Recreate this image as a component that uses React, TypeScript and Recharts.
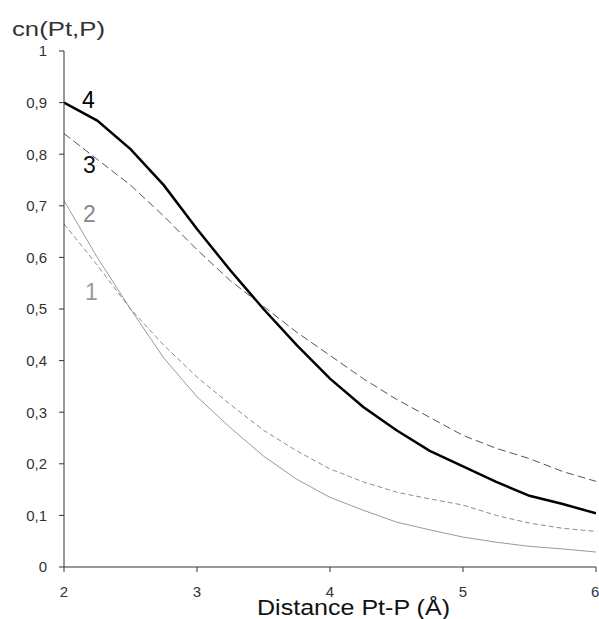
import React from "react";
import { LineChart, Line, XAxis, YAxis } from "recharts";

const distances = [2, 2.25, 2.5, 2.75, 3, 3.25, 3.5, 3.75, 4, 4.25, 4.5, 4.75, 5, 5.25, 5.5, 5.75, 6];
const curve1 = [0.71, 0.6, 0.5, 0.405, 0.33, 0.27, 0.215, 0.17, 0.135, 0.11, 0.087, 0.072, 0.058, 0.048, 0.04, 0.035, 0.029];
const curve2 = [0.665, 0.585, 0.5, 0.43, 0.368, 0.315, 0.265, 0.225, 0.19, 0.165, 0.145, 0.132, 0.12, 0.1, 0.085, 0.075, 0.069];
const curve3 = [0.84, 0.79, 0.74, 0.68, 0.615, 0.555, 0.505, 0.455, 0.41, 0.365, 0.325, 0.29, 0.255, 0.23, 0.21, 0.185, 0.166];
const curve4 = [0.9, 0.865, 0.81, 0.74, 0.655, 0.575, 0.5, 0.43, 0.365, 0.31, 0.265, 0.225, 0.195, 0.165, 0.138, 0.122, 0.104];

const xTicks = [2, 3, 4, 5, 6];
const yTicks = [0, 0.1, 0.2, 0.3, 0.4, 0.5, 0.6, 0.7, 0.8, 0.9, 1];

const data = distances.map((x, i) => ({
  x,
  c1: curve1[i],
  c2: curve2[i],
  c3: curve3[i],
  c4: curve4[i],
}));

const font = "Arial, 'Liberation Sans', sans-serif";
const fmtY = (v: number) => String(Math.round(v * 10) / 10).replace(".", ",");

export default function App() {
  return (
    <div style={{ position: "absolute", left: 0, top: 0, width: 599, height: 619, background: "#fff" }}>
      <LineChart
        width={599}
        height={619}
        data={data}
        margin={{ top: 51, right: 3, bottom: 0, left: 0 }}
      >
        <XAxis
          dataKey="x"
          type="number"
          domain={[2, 6]}
          ticks={xTicks}
          height={52}
          stroke="#333"
          tickSize={5}
          tickMargin={14}
          tick={{ fill: "#333", fontSize: 15, fontFamily: font }}
          allowDataOverflow
        />
        <YAxis
          type="number"
          domain={[0, 1]}
          ticks={yTicks}
          width={64}
          stroke="#333"
          tickSize={5}
          tickMargin={12}
          tickFormatter={fmtY}
          tick={{ fill: "#333", fontSize: 15, fontFamily: font }}
          allowDataOverflow
        />
        <Line dataKey="c1" type="linear" stroke="#9a9a9a" strokeWidth={1} dot={false} isAnimationActive={false} />
        <Line dataKey="c2" type="linear" stroke="#8c8c8c" strokeWidth={1} strokeDasharray="5 3" dot={false} isAnimationActive={false} />
        <Line dataKey="c3" type="linear" stroke="#555" strokeWidth={1} strokeDasharray="8 4" dot={false} isAnimationActive={false} />
        <Line dataKey="c4" type="linear" stroke="#000" strokeWidth={2.5} dot={false} isAnimationActive={false} />
      </LineChart>
      <svg
        width={599}
        height={619}
        style={{ position: "absolute", left: 0, top: 0, pointerEvents: "none" }}
      >
        <text x={12} y={36} fontSize={21} fontFamily={font} fill="#333" textLength={93} lengthAdjust="spacingAndGlyphs">cn(Pt,P)</text>
        <text x={257} y={615} fontSize={22} fontFamily={font} fill="#111" textLength={193} lengthAdjust="spacingAndGlyphs">Distance Pt-P (Å)</text>
        <text x={82} y={108} fontSize={23} fontFamily={font} fill="#000">4</text>
        <text x={83} y={173} fontSize={23} fontFamily={font} fill="#111">3</text>
        <text x={83} y={222} fontSize={23} fontFamily={font} fill="#888">2</text>
        <text x={85} y={300} fontSize={23} fontFamily={font} fill="#999">1</text>
      </svg>
    </div>
  );
}
